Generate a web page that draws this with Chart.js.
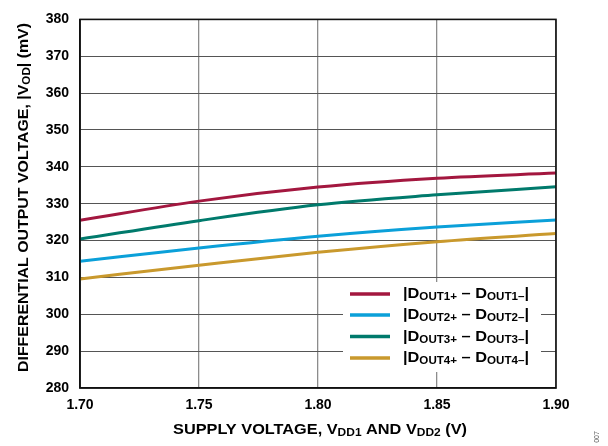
<!DOCTYPE html>
<html>
<head>
<meta charset="utf-8">
<script src="https://cdn.jsdelivr.net/npm/chart.js@4.4.1/dist/chart.umd.min.js"></script>
<style>
html,body{margin:0;padding:0;background:#fff;}
#wrap{width:608px;height:446px;position:relative;}
</style>
</head>
<body>
<div id="wrap"><canvas id="c" width="608" height="446"></canvas></div>
<script>
const supplyVoltage = [1.70, 1.75, 1.80, 1.85, 1.90];
const dout1 = [325.5, 330.7, 334.5, 336.9, 338.3];
const dout2 = [314.4, 318.0, 321.2, 323.7, 325.6];
const dout3 = [320.4, 325.4, 329.7, 332.4, 334.6];
const dout4 = [309.6, 313.3, 316.8, 319.7, 321.9];
const xTicks = [1.70, 1.75, 1.80, 1.85, 1.90];
const yTicks = [280, 290, 300, 310, 320, 330, 340, 350, 360, 370, 380];
const seriesNames = ['1', '2', '3', '4'];
const colors = ['#a3173f', '#0ba0d9', '#007a6c', '#c9992d'];

const FONT = '"Liberation Sans", Arial, sans-serif';

function pts(vals){ return supplyVoltage.map((x,i)=>({x:x,y:vals[i]})); }

function richWidth(ctx, parts, big, small){
  let w=0;
  parts.forEach(p=>{ ctx.font='bold '+(p.sub?small:big)+'px '+FONT; w+=ctx.measureText(p.t).width; });
  return w;
}
// draws rich text starting at x (left), stretched horizontally to targetW
function drawRich(ctx, parts, x, y, big, small, subShift, targetW){
  const w = richWidth(ctx, parts, big, small);
  const sx = targetW ? targetW / w : 1;
  ctx.save();
  ctx.translate(x, y);
  ctx.scale(sx, 1);
  ctx.textBaseline='middle';
  ctx.textAlign='left';
  let cx=0;
  parts.forEach(p=>{
    ctx.font='bold '+(p.sub?small:big)+'px '+FONT;
    ctx.fillText(p.t, cx, (p.sub?subShift:0));
    cx+=ctx.measureText(p.t).width;
  });
  ctx.restore();
  return w*sx;
}

const decor = {
  id:'decor',
  afterDraw(chart){
    const ctx=chart.ctx, a=chart.chartArea;
    ctx.save();
    // frame
    ctx.strokeStyle='#111'; ctx.lineWidth=1.6;
    ctx.strokeRect(a.left, a.top, a.right-a.left, a.bottom-a.top);
    // legend box
    ctx.fillStyle='#fff';
    ctx.fillRect(343, 282, 541-343, 372-282);
    const rowsY=[294,315,336.5,358];
    seriesNames.forEach((n,i)=>{
      ctx.strokeStyle=colors[i]; ctx.lineWidth=3.5;
      ctx.beginPath(); ctx.moveTo(350,rowsY[i]); ctx.lineTo(390,rowsY[i]); ctx.stroke();
      ctx.fillStyle='#000';
      drawRich(ctx,[{t:'|D'},{t:'OUT'+n+'+',sub:true},{t:' \u2013 D'},{t:'OUT'+n+'\u2013',sub:true},{t:'|'}],403,rowsY[i],15.5,11,3,126);
    });
    // y title
    ctx.fillStyle='#000';
    const yParts=[{t:'DIFFERENTIAL OUTPUT VOLTAGE, |V'},{t:'OD',sub:true},{t:'| (mV)'}];
    ctx.save();
    ctx.translate(24,197.5);
    ctx.rotate(-Math.PI/2);
    drawRich(ctx,yParts,-349/2,0,15,11,3,349);
    ctx.restore();
    // x title
    const xParts=[{t:'SUPPLY VOLTAGE, V'},{t:'DD1',sub:true},{t:' AND V'},{t:'DD2',sub:true},{t:' (V)'}];
    drawRich(ctx,xParts,173,430,15,11,3,294);
    // figure number
    ctx.save();
    ctx.translate(597,437);
    ctx.rotate(-Math.PI/2);
    ctx.font='7px '+FONT; ctx.fillStyle='#555'; ctx.textAlign='center'; ctx.textBaseline='middle';
    ctx.fillText('007',0,0);
    ctx.restore();
    ctx.restore();
  }
};

new Chart(document.getElementById('c'),{
  type:'line',
  data:{
    datasets: seriesNames.map((n,i)=>({
      label:'|DOUT'+n+'+ \u2013 DOUT'+n+'\u2013|',
      data: pts([dout1,dout2,dout3,dout4][i]),
      borderColor: colors[i],
      borderWidth: 3,
      pointRadius: 0,
      fill:false,
      cubicInterpolationMode:'monotone'
    }))
  },
  options:{
    responsive:false,
    animation:false,
    events:[],
    layout:{padding:{left:0,top:9,right:52,bottom:0}},
    plugins:{legend:{display:false},tooltip:{enabled:false},title:{display:false}},
    scales:{
      x:{
        type:'linear', min:1.70, max:1.90,
        afterBuildTicks(s){ s.ticks = xTicks.map(v=>({value:v})); },
        afterFit(s){ s.height=58; },
        ticks:{ callback:v=>Number(v).toFixed(2), font:{family:FONT,size:14,weight:'bold'}, color:'#000', padding:9, maxRotation:0, autoSkip:false },
        grid:{ color:'#8c8c8c', lineWidth:1.3, drawTicks:false },
        border:{ display:true, color:'#111', width:1.6 }
      },
      y:{
        type:'linear', min:280, max:380,
        afterBuildTicks(s){ s.ticks = yTicks.map(v=>({value:v})); },
        afterFit(s){ s.width=80; },
        ticks:{ font:{family:FONT,size:14,weight:'bold'}, color:'#000', padding:11, autoSkip:false },
        grid:{ color:'#555', lineWidth:1.1, drawTicks:false },
        border:{ display:true, color:'#111', width:1.6 }
      }
    }
  },
  plugins:[decor]
});
</script>
</body>
</html>
